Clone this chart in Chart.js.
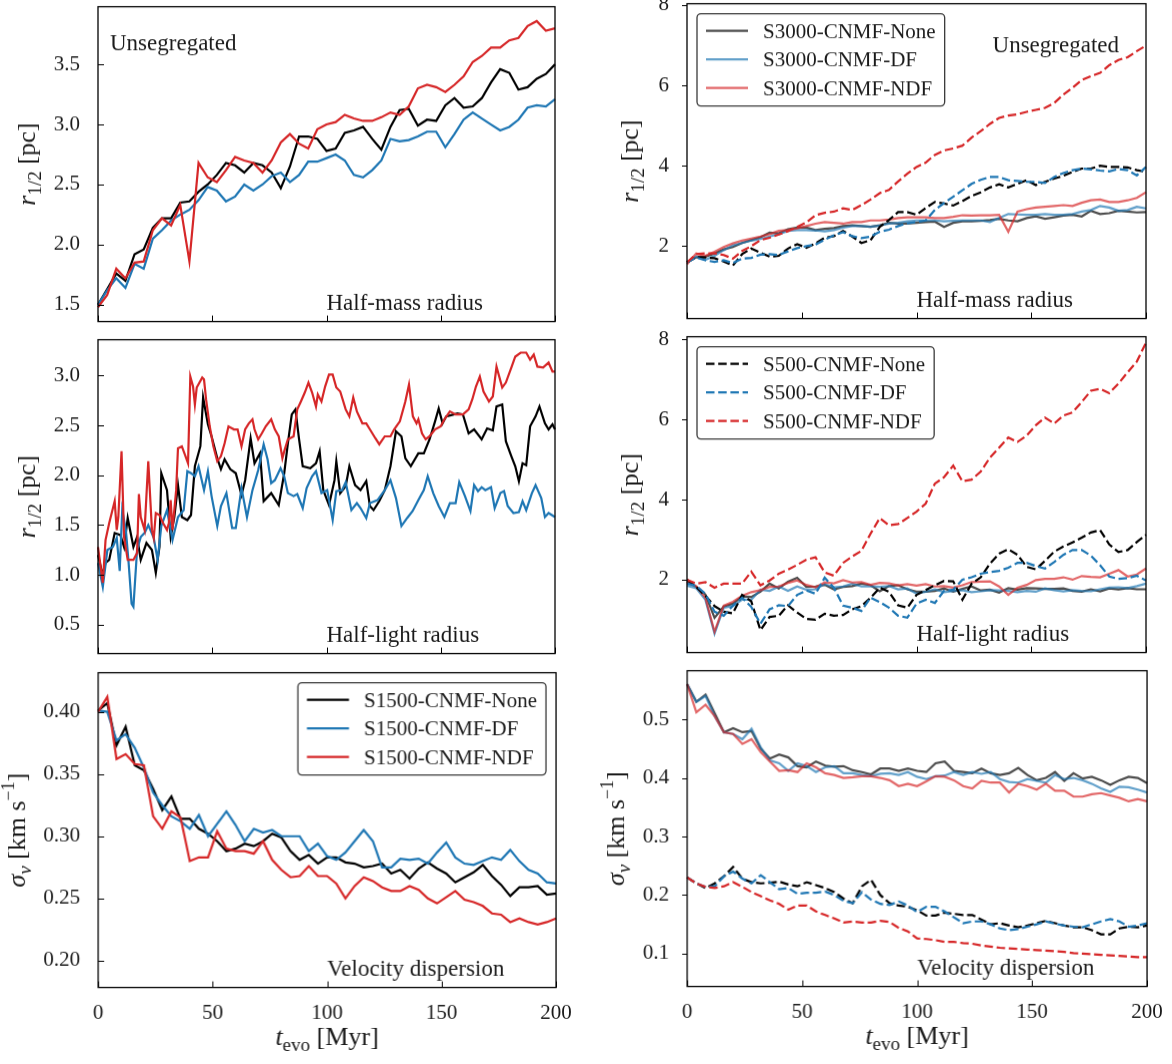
<!DOCTYPE html>
<html>
<head>
<meta charset="utf-8">
<title>Cluster evolution</title>
<script src="https://cdn.jsdelivr.net/npm/chart.js@4.4.0/dist/chart.umd.min.js"></script>
<style>
  body { margin: 0; background: #fff; }
  #page { position: relative; width: 1172px; height: 1064px; overflow: hidden; background: #fff; }
  #page canvas { position: absolute; }
</style>
</head>
<body>
<div id="page"></div>
<script>
'use strict';

// time axis (Myr) shared by most curves
const tGrid = [0,4,8,12,16,20,24,28,32,36,40,44,48,52,56,60,64,68,72,76,80,84,88,92,96,100,
  104,108,112,116,120,124,128,132,136,140,144,148,152,156,160,164,168,172,176,180,184,188,192,196,200];
const xTicks = [0, 50, 100, 150, 200];

// --- left column: S1500 runs ---
// half-mass radius [pc]
const hmNone = [1.50,1.63,1.76,1.70,1.92,1.96,2.14,2.22,2.22,2.35,2.36,2.44,2.50,2.58,2.68,2.66,2.60,2.68,2.66,2.60,
  2.47,2.65,2.90,2.90,2.88,2.78,2.80,2.93,2.95,2.98,2.88,2.79,2.98,3.12,3.13,2.99,3.04,3.03,3.16,3.22,
  3.14,3.15,3.22,3.35,3.46,3.43,3.29,3.31,3.38,3.42,3.50];
const hmDF = [1.50,1.62,1.72,1.64,1.84,1.80,2.05,2.12,2.20,2.25,2.29,2.37,2.48,2.45,2.36,2.40,2.50,2.45,2.50,2.57,
  2.60,2.52,2.58,2.69,2.69,2.72,2.75,2.70,2.58,2.56,2.62,2.70,2.88,2.86,2.87,2.90,2.94,2.94,2.81,2.92,
  3.04,3.10,3.05,3.00,2.95,2.98,3.04,3.14,3.16,3.15,3.21];
const hmNDF = [1.48,1.58,1.80,1.72,1.85,1.86,2.12,2.22,2.16,2.33,1.86,2.68,2.56,2.52,2.62,2.73,2.70,2.68,2.60,2.70,
  2.85,2.92,2.84,2.80,2.96,3.00,3.02,3.08,3.05,3.03,3.03,3.06,3.10,3.08,3.15,3.30,3.33,3.31,3.27,3.33,
  3.40,3.52,3.57,3.64,3.64,3.70,3.72,3.82,3.86,3.78,3.80];

// half-light radius [pc], [t, r] pairs (noisy, read point by point)
const hlNone = [[0,1.20],[2,1.00],[3.3,1.12],[4.9,1.15],[7.3,1.42],[9.8,1.40],[11.4,1.28],[13,1.57],[15.5,1.28],
  [17.1,1.38],[18.7,1.15],[21.2,1.32],[23.6,1.25],[25.3,1.02],[26.9,1.28],[27.7,2.02],[30.2,1.85],[31.8,1.38],
  [33.4,1.58],[35,1.90],[36.7,1.58],[39.1,1.55],[40.7,1.60],[42.4,2.09],[44.8,2.29],[46,2.78],[48.1,2.51],
  [49.7,2.39],[52.2,2.17],[53.8,2.06],[55.4,2.16],[57.9,2.06],[60.3,2.02],[62.8,1.80],[64.4,1.95],[66.8,2.37],
  [68.5,2.12],[70.9,2.22],[72.5,1.74],[75.8,1.82],[79.1,1.70],[81.5,2.02],[83.1,2.32],[84.8,2.61],[86.4,2.66],
  [88,2.36],[89.6,2.09],[92.9,2.07],[95.4,2.12],[97,2.24],[98.6,1.85],[101.1,1.70],[103.5,1.95],[104.3,2.14],
  [106,1.82],[108.4,1.89],[110,2.09],[112.5,1.90],[114.9,1.85],[117.4,1.94],[119,1.69],[120.6,1.65],[123.1,1.74],
  [125.5,1.85],[128,2.09],[130.4,2.44],[132.8,2.39],[134.5,2.17],[136.9,2.09],[140.2,2.22],[142.6,2.22],
  [145.1,2.36],[147.5,2.54],[149.1,2.67],[150.8,2.52],[152.4,2.59],[157.3,2.62],[159.7,2.61],[162.2,2.42],
  [164.6,2.46],[167.9,2.36],[170.3,2.47],[172.8,2.45],[174.4,2.69],[176.9,2.71],[178.5,2.34],[180.9,2.19],
  [182.6,2.09],[184.2,1.94],[185.8,2.12],[187.4,2.10],[189.1,2.49],[191.5,2.59],[193.2,2.69],[195.6,2.52],
  [197.2,2.46],[198.9,2.51],[200,2.46]];
const hlDF = [[0,1.12],[2.1,0.88],[4.1,1.25],[6.5,1.28],[8.2,1.37],[9.5,1.04],[10.6,1.65],[12.2,1.45],[13.4,1.12],
  [14.7,0.71],[15.5,0.68],[17.1,1.25],[18.7,1.38],[20.4,1.42],[22,1.50],[24.4,1.37],[26.1,1.15],[27.7,1.49],
  [30.2,1.65],[31.8,1.45],[32.6,1.35],[35,1.58],[37.5,1.65],[39.1,2.04],[40.7,2.02],[42.4,1.99],[44,2.09],
  [46.4,1.85],[48.1,2.04],[49.7,1.79],[52.2,1.49],[53.8,1.69],[56.2,1.82],[58.7,1.47],[60.3,1.47],[62.8,1.87],
  [65.2,1.58],[67.6,1.85],[70.1,2.05],[72.5,2.31],[74.2,2.16],[75.8,1.92],[77.4,1.95],[79.9,2.07],[81.5,1.99],
  [83.1,1.82],[85.6,1.79],[87.2,1.81],[89.6,1.67],[91.3,1.87],[93.7,1.99],[95.4,2.04],[97.8,1.82],[100.3,1.85],
  [102.7,1.55],[104.3,1.84],[106.8,1.85],[108.4,1.93],[110.9,1.65],[113.3,1.72],[114.9,1.67],[117.4,1.57],
  [119,1.72],[122.3,1.75],[125.5,1.85],[128,1.95],[130.4,1.77],[132.8,1.49],[135.3,1.57],[137.7,1.64],
  [140.2,1.75],[142.6,1.85],[144.3,1.99],[146.7,1.82],[149.1,1.69],[151.6,1.58],[154,1.72],[156.5,1.72],
  [158.1,1.93],[160.6,1.79],[163,1.64],[164.6,1.90],[166.3,1.84],[167.9,1.88],[169.5,1.85],[172,1.88],
  [173.6,1.67],[176.1,1.82],[177.7,1.84],[179.3,1.69],[181.8,1.62],[184.2,1.63],[185.8,1.74],[187.4,1.65],
  [189.9,1.82],[191.5,1.90],[194,1.77],[195.6,1.58],[197.2,1.62],[200,1.58]];
const hlNDF = [[0,1.28],[2.1,0.92],[3.3,1.35],[4.9,1.52],[7.3,1.74],[8.2,1.45],[8.9,1.58],[10.3,2.24],[11.4,1.38],
  [13,1.15],[15.5,1.15],[17.1,1.22],[17.9,1.81],[18.7,1.58],[20.4,1.45],[22,2.14],[23.6,1.45],[24.4,1.37],
  [25.3,1.62],[26.9,1.60],[28.5,1.52],[30.2,1.45],[31,1.52],[31.8,1.75],[32.6,1.45],[34.2,1.85],[35,2.27],
  [36.7,2.29],[38.3,2.19],[39.4,2.12],[40.4,2.99],[41.6,2.89],[42.4,2.71],[43.2,2.88],[45.6,2.98],[46.4,2.96],
  [47.3,2.76],[48.9,2.49],[50.5,2.29],[52.2,2.14],[53.8,2.19],[55.4,2.32],[57.1,2.49],[59.5,2.46],[61.1,2.46],
  [62.8,2.29],[64.4,2.46],[66,2.52],[67.6,2.56],[68.5,2.46],[70.1,2.36],[71.7,2.42],[73.4,2.49],[75.8,2.56],
  [77.4,2.46],[79.1,2.39],[80.7,2.17],[81.5,2.24],[83.1,2.36],[85.6,2.39],[87.2,2.66],[88.8,2.74],[90.5,2.83],
  [92.1,2.93],[93.7,2.83],[95.4,2.69],[96.2,2.81],[97.8,2.74],[99.4,2.89],[101.1,3.01],[102.7,3.01],[104.3,2.88],
  [106,2.84],[108.4,2.66],[110,2.59],[111.7,2.78],[113.3,2.64],[115.7,2.52],[117.4,2.52],[119,2.46],[121.4,2.37],
  [123.1,2.31],[125.5,2.39],[128,2.39],[129.6,2.46],[132.1,2.54],[134.5,2.74],[136.1,2.91],[137.8,2.59],
  [139.4,2.52],[140.2,2.56],[141.8,2.42],[143.4,2.36],[145.1,2.39],[147.5,2.46],[150,2.49],[151.6,2.56],
  [154,2.64],[156.5,2.61],[159.7,2.61],[162.2,2.66],[163.8,2.76],[165.4,2.89],[167.1,2.99],[168.7,2.84],
  [171.1,2.74],[172.8,2.79],[174.4,3.09],[176.9,2.88],[178.5,2.93],[180.9,3.08],[182.6,3.19],[185,3.23],
  [187.4,3.23],[189.1,3.16],[190.7,3.21],[192.3,3.09],[194.8,3.08],[197.2,3.13],[198.9,3.04],[200,3.04]];

// velocity dispersion [km/s]
const vdNone = [0.401,0.407,0.373,0.388,0.357,0.353,0.338,0.321,0.332,0.314,0.314,0.306,0.302,0.296,0.288,0.290,0.294,
  0.292,0.296,0.302,0.299,0.288,0.281,0.285,0.278,0.283,0.283,0.279,0.278,0.275,0.276,0.278,0.270,0.273,0.266,
  0.274,0.279,0.274,0.270,0.263,0.267,0.271,0.277,0.268,0.261,0.252,0.259,0.259,0.260,0.253,0.254];
const vdDF = [0.401,0.400,0.377,0.382,0.371,0.355,0.335,0.325,0.316,0.312,0.306,0.317,0.300,0.310,0.320,0.309,0.296,
  0.306,0.303,0.305,0.300,0.300,0.300,0.288,0.294,0.284,0.281,0.287,0.296,0.305,0.296,0.275,0.275,0.282,0.281,
  0.282,0.278,0.287,0.295,0.283,0.278,0.277,0.280,0.283,0.281,0.289,0.280,0.273,0.270,0.263,0.262];
const vdNDF = [0.400,0.412,0.362,0.366,0.358,0.357,0.316,0.306,0.320,0.315,0.280,0.283,0.283,0.304,0.290,0.288,0.288,
  0.286,0.296,0.281,0.273,0.267,0.268,0.276,0.268,0.268,0.262,0.250,0.260,0.267,0.264,0.259,0.256,0.256,0.260,
  0.257,0.250,0.246,0.251,0.256,0.249,0.247,0.244,0.238,0.237,0.231,0.234,0.231,0.229,0.231,0.234];

// --- right column: S3000 (solid) and S500 (dashed) runs ---
const hmS3None = [1.60,1.72,1.74,1.82,1.92,1.98,2.08,2.15,2.22,2.34,2.32,2.42,2.46,2.46,2.40,2.43,2.45,2.50,2.52,2.50,
  2.48,2.52,2.58,2.56,2.56,2.58,2.60,2.61,2.48,2.58,2.62,2.62,2.63,2.65,2.68,2.64,2.62,2.70,2.74,2.68,
  2.72,2.76,2.78,2.74,2.88,2.80,2.82,2.88,2.86,2.84,2.85];
const hmS3DF = [1.60,1.75,1.66,1.76,1.90,2.02,2.08,2.14,2.18,2.24,2.30,2.38,2.40,2.40,2.39,2.37,2.40,2.46,2.50,2.50,
  2.48,2.51,2.56,2.58,2.62,2.64,2.64,2.64,2.62,2.63,2.64,2.64,2.64,2.60,2.70,2.80,2.79,2.78,2.78,2.80,
  2.78,2.78,2.80,2.86,2.90,3.00,2.96,2.88,2.90,2.98,2.94];
const hmS3NDF = [1.55,1.82,1.76,1.86,1.98,2.07,2.14,2.19,2.24,2.30,2.38,2.40,2.44,2.50,2.56,2.60,2.58,2.56,2.60,2.60,
  2.64,2.64,2.66,2.70,2.72,2.72,2.72,2.70,2.70,2.73,2.77,2.76,2.77,2.77,2.78,2.36,2.86,2.92,2.96,2.98,
  3.00,3.02,3.00,3.08,3.14,3.16,3.10,3.10,3.14,3.20,3.34];
const hmS5None = [1.60,1.73,1.72,1.70,1.62,1.52,1.80,1.94,1.84,1.74,1.76,1.94,2.05,1.96,2.07,2.21,2.25,2.38,2.24,2.08,
  2.15,2.48,2.65,2.85,2.85,2.78,2.95,3.10,3.06,3.01,3.12,3.25,3.34,3.46,3.54,3.46,3.55,3.64,3.52,3.60,
  3.68,3.75,3.85,3.93,3.93,4.00,3.97,3.97,3.96,3.89,3.85];
const hmS5DF = [1.60,1.72,1.65,1.61,1.65,1.58,1.69,1.71,1.79,1.80,1.78,1.87,1.95,2.00,2.04,2.16,2.27,2.35,2.25,2.20,
  2.24,2.36,2.41,2.50,2.57,2.60,2.64,2.90,3.07,3.23,3.39,3.55,3.65,3.72,3.72,3.64,3.62,3.60,3.60,3.57,
  3.72,3.82,3.89,3.93,3.91,3.88,3.86,3.92,3.89,3.76,3.97];
const hmS5NDF = [1.60,1.80,1.82,1.82,1.78,1.69,1.88,2.00,2.15,2.21,2.29,2.37,2.48,2.59,2.77,2.83,2.86,2.94,2.90,3.02,
  3.16,3.32,3.40,3.61,3.80,3.97,4.08,4.27,4.38,4.43,4.50,4.70,4.86,5.04,5.19,5.25,5.28,5.34,5.39,5.44,
  5.56,5.77,5.94,6.13,6.23,6.31,6.50,6.63,6.70,6.85,6.99];

const hlS3None = [1.95,1.82,1.63,1.05,1.33,1.40,1.58,1.57,1.70,1.90,1.78,1.95,2.05,1.82,1.83,1.87,1.76,1.82,1.84,1.90,
  1.86,1.71,1.84,1.86,1.76,1.70,1.70,1.72,1.78,1.70,1.77,1.83,1.73,1.75,1.68,1.79,1.75,1.79,1.78,1.77,
  1.77,1.78,1.72,1.70,1.76,1.71,1.78,1.76,1.79,1.76,1.76];
const hlS3DF = [1.85,1.79,1.50,0.65,1.30,1.34,1.50,1.50,1.75,1.72,1.83,1.72,1.83,1.75,1.76,1.89,1.81,1.83,1.90,1.83,
  1.84,1.82,1.84,1.76,1.78,1.65,1.70,1.76,1.69,1.72,1.74,1.69,1.71,1.74,1.73,1.72,1.69,1.72,1.70,1.78,
  1.74,1.71,1.74,1.72,1.71,1.76,1.80,1.81,1.79,1.84,1.90];
const hlS3NDF = [1.95,1.84,1.55,0.70,1.35,1.45,1.60,1.69,1.74,1.82,1.83,1.92,1.98,1.87,1.81,1.93,1.91,1.99,1.93,1.94,
  1.87,1.92,1.91,1.86,1.89,1.85,1.89,1.83,1.84,1.80,1.86,1.94,1.95,1.96,1.83,1.62,1.80,1.87,1.99,2.02,
  2.02,2.06,2.00,2.09,2.07,2.06,2.15,2.24,2.08,2.13,2.28];
const hlS5None = [2.00,1.82,1.60,1.34,1.20,1.16,1.62,1.46,0.74,1.07,1.10,1.36,1.18,1.02,1.00,1.15,1.10,1.12,1.26,1.34,
  1.55,1.80,1.70,1.36,1.30,1.62,1.74,1.86,1.97,1.96,1.50,1.90,2.06,2.40,2.65,2.76,2.62,2.32,2.26,2.47,
  2.70,2.83,2.93,3.05,3.18,3.24,2.88,2.69,2.74,2.94,3.12];
const hlS5DF = [1.90,1.85,1.65,1.20,1.10,1.35,1.55,1.32,0.90,1.26,1.36,1.34,1.62,1.73,1.65,2.05,1.80,1.35,1.30,1.22,
  1.55,1.44,1.30,1.10,1.05,1.40,1.50,1.42,1.72,1.75,2.00,2.06,2.15,2.19,2.22,2.30,2.42,2.42,2.34,2.28,
  2.44,2.62,2.74,2.74,2.60,2.36,2.08,2.02,2.04,2.10,1.98];
const hlS5NDF = [2.00,1.90,1.94,1.80,1.90,1.90,1.90,2.20,1.86,1.98,2.15,2.25,2.37,2.50,2.56,2.18,2.10,2.42,2.58,2.72,
  3.15,3.54,3.36,3.39,3.54,3.70,3.90,4.40,4.56,4.85,4.46,4.50,4.70,5.05,5.30,5.55,5.44,5.60,5.86,6.05,
  5.90,6.10,6.18,6.44,6.72,6.77,6.66,6.90,7.18,7.45,7.92];

const vdS3None = [0.560,0.530,0.542,0.510,0.478,0.485,0.478,0.480,0.450,0.433,0.440,0.435,0.420,0.418,0.428,0.421,
  0.419,0.420,0.413,0.410,0.406,0.416,0.416,0.412,0.416,0.412,0.410,0.425,0.428,0.412,0.410,0.408,0.416,0.408,
  0.405,0.408,0.417,0.405,0.396,0.400,0.410,0.395,0.408,0.399,0.402,0.396,0.388,0.396,0.402,0.400,0.391];
const vdS3DF = [0.560,0.530,0.540,0.505,0.478,0.475,0.466,0.484,0.452,0.430,0.425,0.412,0.425,0.420,0.410,0.418,
  0.420,0.408,0.408,0.405,0.403,0.407,0.408,0.405,0.410,0.402,0.398,0.403,0.404,0.410,0.405,0.410,0.407,0.410,
  0.398,0.393,0.392,0.398,0.395,0.392,0.405,0.398,0.400,0.396,0.390,0.382,0.376,0.385,0.384,0.380,0.375];
const vdS3NDF = [0.560,0.512,0.525,0.505,0.478,0.475,0.458,0.466,0.444,0.428,0.412,0.413,0.410,0.425,0.418,0.408,
  0.405,0.400,0.401,0.403,0.403,0.400,0.396,0.386,0.390,0.386,0.394,0.403,0.402,0.396,0.386,0.382,0.395,0.392,
  0.392,0.375,0.390,0.386,0.380,0.390,0.378,0.378,0.368,0.368,0.372,0.374,0.370,0.366,0.360,0.364,0.360];
const vdS5None = [0.230,0.220,0.212,0.220,0.232,0.248,0.228,0.222,0.220,0.221,0.223,0.218,0.215,0.222,0.217,0.212,
  0.205,0.194,0.186,0.215,0.226,0.200,0.186,0.182,0.180,0.174,0.165,0.165,0.170,0.168,0.166,0.166,0.158,0.150,
  0.152,0.148,0.145,0.148,0.152,0.156,0.152,0.148,0.145,0.145,0.140,0.133,0.133,0.143,0.146,0.145,0.148];
const vdS5DF = [0.230,0.220,0.214,0.215,0.232,0.240,0.228,0.220,0.234,0.222,0.210,0.212,0.202,0.204,0.204,0.206,
  0.200,0.190,0.186,0.205,0.192,0.185,0.183,0.189,0.182,0.171,0.180,0.180,0.172,0.162,0.152,0.155,0.155,0.150,
  0.143,0.140,0.142,0.146,0.150,0.155,0.151,0.148,0.146,0.145,0.150,0.155,0.159,0.155,0.146,0.148,0.152];
const vdS5NDF = [0.230,0.220,0.214,0.212,0.215,0.222,0.214,0.205,0.198,0.191,0.185,0.175,0.182,0.182,0.172,0.166,
  0.160,0.153,0.155,0.153,0.153,0.156,0.154,0.144,0.138,0.126,0.125,0.123,0.120,0.120,0.118,0.117,0.114,0.112,
  0.110,0.109,0.108,0.107,0.106,0.105,0.104,0.103,0.101,0.100,0.099,0.098,0.097,0.096,0.095,0.094,0.094];

// colours (matplotlib tab palette)
const BLACK = '#000000', BLUE = '#1f77b4', RED = '#d62728';
const GREY_A = 'rgba(0,0,0,0.7)', BLUE_A = 'rgba(31,119,180,0.7)', RED_A = 'rgba(214,39,40,0.7)';
const DASH = [8.5, 3.7];
const FONT = '"Liberation Serif", "Times New Roman", serif';
const INK = '#1a1a1a';

// axis titles as rich text pieces: i = italic, n = normal, sub/isub = subscript, sup = superscript
const R_HALF = [['r', 'i'], ['1/2', 'sub'], [' [pc]', 'n']];
const SIGMA = [['σ', 'i'], ['v', 'isub'], [' [km s', 'n'], ['−1', 'sup'], [']', 'n']];
const T_EVO = [['t', 'i'], ['evo', 'sub'], [' [Myr]', 'n']];

function onGrid(vals) {
  return tGrid.map((t, i) => ({ x: t, y: vals[i] }));
}
function fromPairs(list) {
  return list.map(p => ({ x: p[0], y: p[1] }));
}

const leftSet = (tag, a, b, c, pairs) => [
  { label: tag + '-None', data: pairs ? fromPairs(a) : onGrid(a), color: BLACK },
  { label: tag + '-DF', data: pairs ? fromPairs(b) : onGrid(b), color: BLUE },
  { label: tag + '-NDF', data: pairs ? fromPairs(c) : onGrid(c), color: RED }
];
const rightSet = (a, b, c, d, e, f) => [
  { label: 'S3000-CNMF-None', data: onGrid(a), color: GREY_A },
  { label: 'S3000-CNMF-DF', data: onGrid(b), color: BLUE_A },
  { label: 'S3000-CNMF-NDF', data: onGrid(c), color: RED_A },
  { label: 'S500-CNMF-None', data: onGrid(d), color: BLACK, dash: DASH },
  { label: 'S500-CNMF-DF', data: onGrid(e), color: BLUE, dash: DASH },
  { label: 'S500-CNMF-NDF', data: onGrid(f), color: RED, dash: DASH }
];

// panel boxes are [left, top, right, bottom] of the plotting area on the page
const panels = [
  { area: [98, 7, 555, 321], yMin: 1.36, yMax: 3.98, yStep: 0.5, yDec: 1, xLabels: false,
    yTitle: R_HALF, titleDx: -71, yTickOut: false,
    series: leftSet('S1500-CNMF', hmNone, hmDF, hmNDF, false),
    notes: [{ text: 'Unsegregated', pos: 'tl' }, { text: 'Half-mass radius', pos: 'bm' }] },
  { area: [98, 340, 555, 653], yMin: 0.21, yMax: 3.36, yStep: 0.5, yDec: 1, xLabels: false,
    yTitle: R_HALF, titleDx: -71, yTickOut: false,
    series: leftSet('S1500-CNMF', hlNone, hlDF, hlNDF, true),
    notes: [{ text: 'Half-light radius', pos: 'bm' }] },
  { area: [98, 673, 555, 987], yMin: 0.1785, yMax: 0.4314, yStep: 0.05, yDec: 2, xLabels: true,
    yTitle: SIGMA, titleDx: -81, yTickOut: false,
    series: leftSet('S1500-CNMF', vdNone, vdDF, vdNDF, false),
    notes: [{ text: 'Velocity dispersion', pos: 'bm' }],
    legend: { loc: 'ur', items: [0, 1, 2] } },
  { area: [687, 4, 1146, 318], yMin: 0.2, yMax: 8.03, yStep: 2, yDec: 0, xLabels: false,
    yTitle: R_HALF, titleDx: -57, yTickOut: true,
    series: rightSet(hmS3None, hmS3DF, hmS3NDF, hmS5None, hmS5DF, hmS5NDF),
    notes: [{ text: 'Unsegregated', pos: 'tr' }, { text: 'Half-mass radius', pos: 'bm' }],
    legend: { loc: 'ul', items: [0, 1, 2] } },
  { area: [687, 337, 1146, 652], yMin: 0.18, yMax: 8.07, yStep: 2, yDec: 0, xLabels: false,
    yTitle: R_HALF, titleDx: -57, yTickOut: true,
    series: rightSet(hlS3None, hlS3DF, hlS3NDF, hlS5None, hlS5DF, hlS5NDF),
    notes: [{ text: 'Half-light radius', pos: 'bm' }],
    legend: { loc: 'ul', items: [3, 4, 5] } },
  { area: [687, 671, 1146, 986], yMin: 0.044, yMax: 0.583, yStep: 0.1, yDec: 1, xLabels: true,
    yTitle: SIGMA, titleDx: -71, yTickOut: true,
    series: rightSet(vdS3None, vdS3DF, vdS3NDF, vdS5None, vdS5DF, vdS5NDF),
    notes: [{ text: 'Velocity dispersion', pos: 'bm' }] }
];

function richText(ctx, parts, cx, cy, vertical) {
  const fonts = { i: 'italic 26px ', n: '26px ', sub: '19px ', isub: 'italic 19px ', sup: '18px ' };
  const shift = { i: 0, n: 0, sub: 6, isub: 6, sup: -11 };
  ctx.save();
  ctx.translate(cx, cy);
  if (vertical) ctx.rotate(-Math.PI / 2);
  ctx.textAlign = 'left';
  ctx.textBaseline = 'alphabetic';
  let total = 0;
  const widths = parts.map(p => {
    ctx.font = fonts[p[1]] + FONT;
    const w = ctx.measureText(p[0]).width;
    total += w;
    return w;
  });
  let x = -total / 2;
  parts.forEach((p, i) => {
    ctx.font = fonts[p[1]] + FONT;
    ctx.fillText(p[0], x, 8 + shift[p[1]]);
    x += widths[i];
  });
  ctx.restore();
}

// draws frame, tick marks, notes, legend and axis titles
function decorations(p) {
  return {
    id: 'decorations',
    afterDraw(chart) {
      const ctx = chart.ctx;
      const a = chart.chartArea;
      const xs = chart.scales.x, ys = chart.scales.y;
      ctx.save();
      ctx.strokeStyle = '#000';
      ctx.lineWidth = 1;
      ctx.beginPath();
      xTicks.forEach(v => {
        const px = Math.round(xs.getPixelForValue(v)) + 0.5;
        ctx.moveTo(px, a.bottom);
        ctx.lineTo(px, a.bottom - 6);
      });
      ys.ticks.forEach(tk => {
        const py = Math.round(ys.getPixelForValue(tk.value)) + 0.5;
        if (p.yTickOut) {
          ctx.moveTo(a.left - 5, py);
          ctx.lineTo(a.left, py);
        } else {
          ctx.moveTo(a.left, py);
          ctx.lineTo(a.left + 6, py);
        }
      });
      ctx.stroke();
      ctx.lineWidth = 1.3;
      ctx.strokeRect(a.left, a.top, a.right - a.left, a.bottom - a.top);

      ctx.fillStyle = INK;
      ctx.font = '23px ' + FONT;
      ctx.textBaseline = 'alphabetic';
      p.notes.forEach(n => {
        if (n.pos === 'tl') {
          ctx.textAlign = 'left';
          ctx.fillText(n.text, a.left + 12, a.top + 43);
        } else if (n.pos === 'tr') {
          ctx.textAlign = 'right';
          ctx.fillText(n.text, a.right - 27, a.top + 48);
        } else {
          ctx.textAlign = 'left';
          ctx.fillText(n.text, (a.left + a.right) / 2, a.bottom - 12);
        }
      });

      if (p.legend) {
        const items = p.legend.items.map(i => chart.data.datasets[i]);
        ctx.font = '21px ' + FONT;
        const tw = Math.max(...items.map(d => ctx.measureText(d.label).width));
        const w = 66 + tw + 9, h = 92, r = 4;
        const x0 = p.legend.loc === 'ur' ? a.right - 10 - w : a.left + 10;
        const y0 = a.top + 10;
        ctx.beginPath();
        ctx.moveTo(x0 + r, y0);
        ctx.arcTo(x0 + w, y0, x0 + w, y0 + h, r);
        ctx.arcTo(x0 + w, y0 + h, x0, y0 + h, r);
        ctx.arcTo(x0, y0 + h, x0, y0, r);
        ctx.arcTo(x0, y0, x0 + w, y0, r);
        ctx.closePath();
        ctx.fillStyle = 'rgba(255,255,255,0.8)';
        ctx.fill();
        ctx.strokeStyle = '#3a3a3a';
        ctx.lineWidth = 1.3;
        ctx.stroke();
        items.forEach((d, k) => {
          const cy = y0 + 17 + k * 28.5;
          ctx.save();
          ctx.strokeStyle = d.borderColor;
          ctx.lineWidth = 2.2;
          ctx.setLineDash(d.borderDash || []);
          ctx.beginPath();
          ctx.moveTo(x0 + 9, cy);
          ctx.lineTo(x0 + 51, cy);
          ctx.stroke();
          ctx.restore();
          ctx.fillStyle = INK;
          ctx.textAlign = 'left';
          ctx.fillText(d.label, x0 + 66, cy + 7);
        });
      }

      ctx.fillStyle = INK;
      richText(ctx, p.yTitle, a.left + p.titleDx, (a.top + a.bottom) / 2, true);
      if (p.xLabels) richText(ctx, T_EVO, (a.left + a.right) / 2, a.bottom + 49, false);
      ctx.restore();
    }
  };
}

const page = document.getElementById('page');
const PAD = 14;

panels.forEach(p => {
  const [l, t, r, b] = p.area;
  const canvas = document.createElement('canvas');
  canvas.width = r - l + 98 + 22;
  canvas.height = b - t + PAD + (p.xLabels ? 77 : PAD);
  page.appendChild(canvas);

  const n = p.series.length;
  const datasets = p.series.map((s, i) => ({
    label: s.label,
    data: s.data,
    borderColor: s.color,
    borderDash: s.dash || [],
    borderWidth: 2.2,
    pointRadius: 0,
    fill: false,
    tension: 0,
    clip: 1,
    order: n - i
  }));

  const tickFont = { family: FONT, size: 21 };
  const chart = new Chart(canvas, {
    type: 'line',
    data: { datasets },
    options: {
      responsive: false,
      maintainAspectRatio: false,
      animation: false,
      layout: { padding: { left: 0, right: 22, top: PAD, bottom: p.xLabels ? 37 : PAD } },
      plugins: { legend: { display: false }, tooltip: { enabled: false } },
      scales: {
        x: {
          type: 'linear', min: 0, max: 200,
          ticks: { stepSize: 50, display: p.xLabels, padding: 13, font: tickFont, color: INK,
                   maxRotation: 0, includeBounds: false },
          grid: { display: false, drawTicks: false },
          border: { display: false },
          afterFit: s => { s.height = p.xLabels ? 40 : 0; }
        },
        y: {
          type: 'linear', min: p.yMin, max: p.yMax,
          ticks: { stepSize: p.yStep, padding: 18, font: tickFont, color: INK, includeBounds: false,
                   callback: v => Number(v).toFixed(p.yDec) },
          grid: { display: false, drawTicks: false },
          border: { display: false },
          afterFit: s => { s.width = 98; }
        }
      }
    },
    plugins: [decorations(p)]
  });

  // the layout adds its own padding; grow the canvas so the plotting area has the wanted size,
  // then shift the canvas so the area sits where it belongs on the page
  const ca = chart.chartArea;
  const newW = canvas.width + (r - l) - (ca.right - ca.left);
  const newH = canvas.height + (b - t) - (ca.bottom - ca.top);
  chart.resize(newW, newH);
  chart.update();
  const ca2 = chart.chartArea;
  canvas.style.left = (l - ca2.left) + 'px';
  canvas.style.top = (t - ca2.top) + 'px';
});
</script>
</body>
</html>
